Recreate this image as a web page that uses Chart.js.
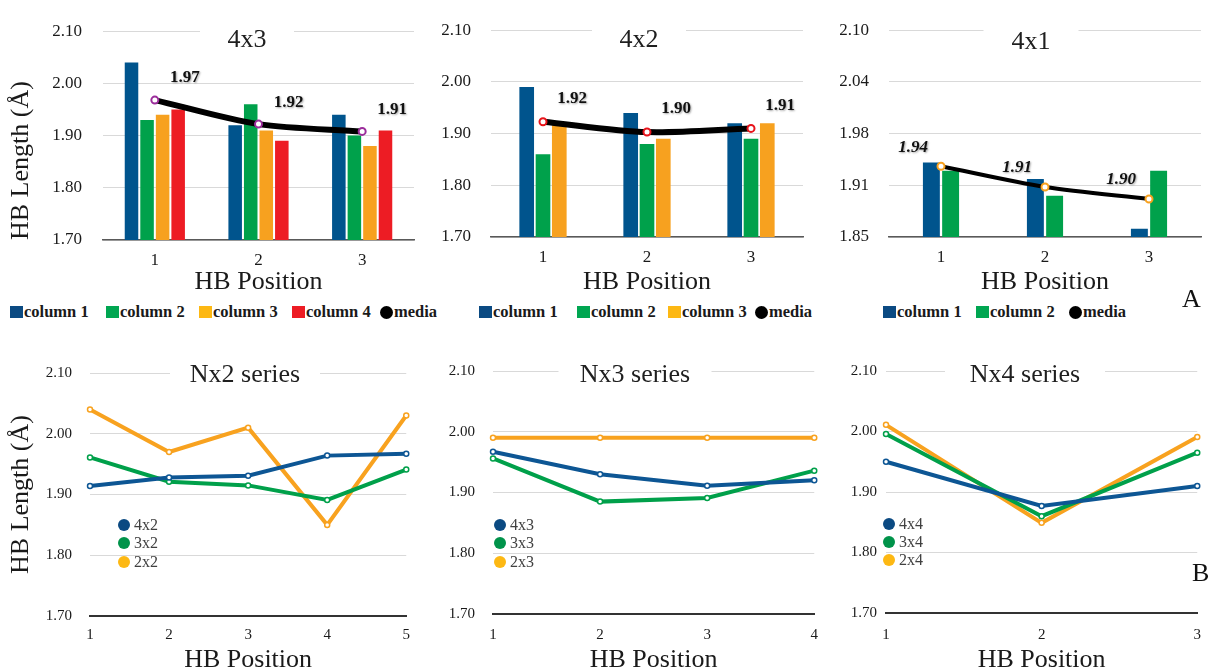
<!DOCTYPE html>
<html>
<head>
<meta charset="utf-8">
<script src="https://cdn.jsdelivr.net/npm/chart.js@4.4.1/dist/chart.umd.min.js"></script>
<style>
  body { margin: 0; width: 1214px; height: 672px; overflow: hidden; background: #fff; position: relative;
         font-family: "Liberation Serif", "Times New Roman", serif; }
  .box { position: absolute; }
  .lg-item { position: absolute; display: flex; align-items: center; white-space: nowrap;
             font: bold 16.5px "Liberation Serif", serif; color: #1a1a1a; height: 20px; }
  .lg-item .mk { width: 13px; height: 12px; margin-right: 1px; }
  .lg-item .dot { width: 13px; height: 13px; border-radius: 50%; margin-right: 1px; background: #000; }
  .in-lg { position: absolute; display: flex; align-items: center; white-space: nowrap;
           font: 16px "Liberation Serif", serif; color: #404040; height: 18px; }
  .in-lg .dot { width: 12px; height: 12px; border-radius: 50%; margin-right: 4px; }
  .tag { position: absolute; font: 26px "Liberation Serif", serif; line-height: 26px; color: #111; }
</style>
</head>
<body>
<div class="box" style="left:0;top:0;width:420px;height:300px"><canvas id="c4x3"></canvas></div>
<div class="box" style="left:425px;top:0;width:385px;height:300px"><canvas id="c4x2"></canvas></div>
<div class="box" style="left:830px;top:0;width:384px;height:300px"><canvas id="c4x1"></canvas></div>
<div class="box" style="left:0;top:340px;width:420px;height:350px"><canvas id="cNx2"></canvas></div>
<div class="box" style="left:425px;top:340px;width:405px;height:350px"><canvas id="cNx3"></canvas></div>
<div class="box" style="left:830px;top:340px;width:384px;height:350px"><canvas id="cNx4"></canvas></div>
<div class="tag" style="left:1182px;top:286px">A</div>
<div class="tag" style="left:1192px;top:560px">B</div>

<script>
// ---- data ----
const positions3 = ['1', '2', '3'];
const positions4 = ['1', '2', '3', '4'];
const positions5 = ['1', '2', '3', '4', '5'];

// A: 4x3
const col1_4x3 = [2.04, 1.92, 1.94];
const col2_4x3 = [1.93, 1.96, 1.90];
const col3_4x3 = [1.94, 1.91, 1.88];
const col4_4x3 = [1.95, 1.89, 1.91];
const media_4x3 = [1.968, 1.922, 1.908];

// A: 4x2
const col1_4x2 = [1.99, 1.94, 1.92];
const col2_4x2 = [1.86, 1.88, 1.89];
const col3_4x2 = [1.92, 1.89, 1.92];
const media_4x2 = [1.923, 1.903, 1.910];

// A: 4x1
const col1_4x1 = [1.94, 1.92, 1.86];
const col2_4x1 = [1.93, 1.90, 1.93];
const media_4x1 = [1.9355, 1.9105, 1.896];
const ticks_4x1 = ['1.85', '1.91', '1.98', '2.04', '2.10'];

// B: series
const s4x2 = [1.914, 1.928, 1.931, 1.964, 1.967];
const s3x2 = [1.961, 1.921, 1.915, 1.891, 1.941];
const s2x2 = [2.04, 1.97, 2.01, 1.85, 2.03];

const s4x3 = [1.967, 1.930, 1.911, 1.920];
const s3x3 = [1.956, 1.885, 1.891, 1.936];
const s2x3 = [1.99, 1.99, 1.99, 1.99];

const s4x4 = [1.950, 1.877, 1.910];
const s3x4 = [1.996, 1.860, 1.965];
const s2x4 = [2.011, 1.849, 1.991];

// ---- styles ----
const FONT = '"Liberation Serif", "Times New Roman", serif';
const barColors = ['#00548d', '#00a14b', '#f7a11f', '#ed1c24'];
const legendColors = ['#0b4a82', '#00a651', '#fdb813', '#ed1c24'];
const lineColors = ['#0d5694', '#00a04a', '#f8a21f'];
const dotColors = ['#0b4a82', '#00934a', '#fdb813'];

// title sitting on the top gridline, with a white box behind it
const boxedTitle = {
  id: 'boxedTitle',
  beforeDatasetsDraw(chart, args, o) {
    const ctx = chart.ctx;
    ctx.save();
    ctx.fillStyle = '#fff';
    ctx.fillRect(o.x - o.w / 2, o.y - 18, o.w, 34);
    ctx.font = '26px ' + FONT;
    ctx.fillStyle = '#1f1f1f';
    ctx.textAlign = 'center';
    ctx.textBaseline = 'middle';
    ctx.fillText(o.text, o.x, o.y);
    ctx.restore();
  }
};

// value labels next to the media points
const mediaLabels = {
  id: 'mediaLabels',
  afterDatasetsDraw(chart, args, o) {
    const ctx = chart.ctx;
    const ds = chart.data.datasets[o.index];
    const meta = chart.getDatasetMeta(o.index);
    ctx.save();
    ctx.font = o.font;
    ctx.fillStyle = '#111';
    ctx.textAlign = 'center';
    ctx.textBaseline = 'middle';
    ctx.shadowColor = 'rgba(0,0,0,0.35)';
    ctx.shadowBlur = 2;
    ctx.shadowOffsetX = 1;
    ctx.shadowOffsetY = 1;
    meta.data.forEach((pt, i) => {
      ctx.fillText(ds.data[i].toFixed(2), pt.x + o.dx, pt.y + o.dy);
    });
    ctx.restore();
  }
};

function yAxis(c) {
  return {
    min: c.min, max: c.max,
    afterFit: s => { s.width = c.width; },
    border: { display: false },
    grid: { color: '#d9d9d9', lineWidth: 1, drawTicks: false },
    ticks: {
      stepSize: c.step, padding: c.pad, color: '#1a1a1a',
      font: { family: FONT, size: c.size },
      callback: c.labels ? (v, i) => c.labels[i] : v => v.toFixed(2)
    },
    title: {
      display: !!c.title, text: 'HB Length (Å)', color: '#1a1a1a',
      font: { family: FONT, size: 26 }, align: c.titleAlign || 'center',
      padding: { top: 6, bottom: 0 }
    }
  };
}

function xAxis(c) {
  return {
    offset: c.offset,
    afterFit: s => { s.height = c.height; },
    grid: { display: false, drawTicks: false },
    border: { color: c.borderColor, width: c.borderWidth },
    ticks: { padding: c.pad, color: '#1a1a1a', font: { family: FONT, size: c.size }, maxRotation: 0, autoSkip: false },
    title: {
      display: true, text: 'HB Position', color: '#1a1a1a',
      font: { family: FONT, size: 26 }, padding: { top: 0, bottom: c.titlePad }
    }
  };
}

function barPanel(id, cols, media, mediaColor, lay) {
  const datasets = cols.map((d, i) => ({
    label: 'column ' + (i + 1),
    data: d,
    backgroundColor: barColors[i],
    categoryPercentage: lay.catPct,
    barPercentage: lay.barPct,
    order: 1
  }));
  datasets.push({
    type: 'line', label: 'media', data: media,
    borderColor: '#000', borderWidth: lay.lineW, tension: 0.3,
    pointRadius: 3.5, pointBorderWidth: 2, pointBackgroundColor: '#fff',
    pointBorderColor: mediaColor, order: 0
  });
  new Chart(document.getElementById(id), {
    type: 'bar',
    data: { labels: positions3, datasets },
    options: {
      responsive: true, maintainAspectRatio: false, animation: false,
      layout: { padding: { top: lay.top, right: lay.right, left: 0, bottom: 0 } },
      scales: {
        x: xAxis({ offset: true, height: lay.xh, pad: 10, size: 17, titlePad: 2, borderColor: '#595959', borderWidth: 1.5 }),
        y: yAxis(lay.y)
      },
      plugins: {
        legend: { display: false },
        tooltip: { enabled: false },
        boxedTitle: lay.title,
        mediaLabels: { index: cols.length, dx: lay.dx, dy: lay.dy, font: lay.labelFont }
      }
    },
    plugins: [boxedTitle, mediaLabels]
  });
}

function linePanel(id, labels, series, lay) {
  const datasets = series.map((d, i) => ({
    label: lay.names[i], data: d,
    borderColor: lineColors[i], borderWidth: 4, tension: 0,
    pointRadius: 2.5, pointBorderWidth: 1.5, pointBackgroundColor: '#fff',
    pointBorderColor: lineColors[i]
  }));
  new Chart(document.getElementById(id), {
    type: 'line',
    data: { labels, datasets },
    options: {
      responsive: true, maintainAspectRatio: false, animation: false,
      layout: { padding: { top: lay.top, right: lay.right, left: 0, bottom: 0 } },
      scales: {
        x: xAxis({ offset: false, height: lay.xh, pad: lay.xpad, size: 15, titlePad: 14, borderColor: '#333', borderWidth: 2 }),
        y: yAxis(lay.y)
      },
      plugins: {
        legend: { display: false },
        tooltip: { enabled: false },
        boxedTitle: lay.title
      }
    },
    plugins: [boxedTitle]
  });
}

function topLegend(names, xs) {
  names.forEach((n, i) => {
    const el = document.createElement('div');
    el.className = 'lg-item';
    el.style.left = xs[i] + 'px';
    el.style.top = '302px';
    const mk = document.createElement('span');
    if (n === 'media') { mk.className = 'dot'; }
    else { mk.className = 'mk'; mk.style.background = legendColors[i]; }
    el.appendChild(mk);
    el.appendChild(document.createTextNode(n));
    document.body.appendChild(el);
  });
}

function innerLegend(names, x, ys) {
  names.forEach((n, i) => {
    const el = document.createElement('div');
    el.className = 'in-lg';
    el.style.left = x + 'px';
    el.style.top = ys[i] + 'px';
    const dot = document.createElement('span');
    dot.className = 'dot';
    dot.style.background = dotColors[i];
    el.appendChild(dot);
    el.appendChild(document.createTextNode(n));
    document.body.appendChild(el);
  });
}

// ---- panel A ----
barPanel('c4x3', [col1_4x3, col2_4x3, col3_4x3, col4_4x3], media_4x3, '#9b2d9b', {
  top: 23, right: 5, xh: 60, catPct: 0.6, barPct: 0.87, lineW: 6,
  y: { min: 1.7, max: 2.1, step: 0.1, width: 103, pad: 21, size: 17, title: true, titleAlign: 'start' },
  title: { text: '4x3', x: 247, y: 40, w: 94 },
  dx: 30, dy: -22, labelFont: 'bold 17px ' + FONT
});

barPanel('c4x2', [col1_4x2, col2_4x2, col3_4x2], media_4x2, '#e8141b', {
  top: 19, right: 7, xh: 63, catPct: 0.47, barPct: 0.9, lineW: 6,
  y: { min: 1.7, max: 2.1, step: 0.1, width: 66, pad: 20, size: 17 },
  title: { text: '4x2', x: 214, y: 40, w: 94 },
  dx: 29, dy: -23, labelFont: 'bold 17px ' + FONT
});

barPanel('c4x1', [col1_4x1, col2_4x1], media_4x1, '#f7a11f', {
  top: 19, right: 13, xh: 63, catPct: 0.37, barPct: 0.88, lineW: 4,
  y: { min: 1.85, max: 2.1, step: 0.0625, width: 59, pad: 20, size: 17, labels: ticks_4x1 },
  title: { text: '4x1', x: 201, y: 42, w: 95 },
  dx: -28, dy: -19, labelFont: 'italic bold 17px ' + FONT
});

topLegend(['column 1', 'column 2', 'column 3', 'column 4', 'media'], [10, 106, 199, 292, 380]);
topLegend(['column 1', 'column 2', 'column 3', 'media'], [479, 577, 668, 755]);
topLegend(['column 1', 'column 2', 'media'], [883, 976, 1069]);

// ---- panel B ----
linePanel('cNx2', positions5, [s4x2, s3x2, s2x2], {
  names: ['4x2', '3x2', '2x2'], top: 33, right: 3, xh: 74, xpad: 10,
  y: { min: 1.7, max: 2.1, step: 0.1, width: 90, pad: 18, size: 15, title: true },
  title: { text: 'Nx2 series', x: 245, y: 35, w: 150 }
});

linePanel('cNx3', positions4, [s4x3, s3x3, s2x3], {
  names: ['4x3', '3x3', '2x3'], top: 31, right: 11, xh: 76, xpad: 12,
  y: { min: 1.7, max: 2.1, step: 0.1, width: 68, pad: 18, size: 15 },
  title: { text: 'Nx3 series', x: 210, y: 35, w: 153 }
});

linePanel('cNx4', positions3, [s4x4, s3x4, s2x4], {
  names: ['4x4', '3x4', '2x4'], top: 31, right: 4, xh: 77, xpad: 13,
  y: { min: 1.7, max: 2.1, step: 0.1, width: 56, pad: 9, size: 15 },
  title: { text: 'Nx4 series', x: 195, y: 35, w: 160 }
});

innerLegend(['4x2', '3x2', '2x2'], 118, [516, 534, 553]);
innerLegend(['4x3', '3x3', '2x3'], 494, [516, 534, 553]);
innerLegend(['4x4', '3x4', '2x4'], 883, [515, 533, 551]);
</script>
</body>
</html>
